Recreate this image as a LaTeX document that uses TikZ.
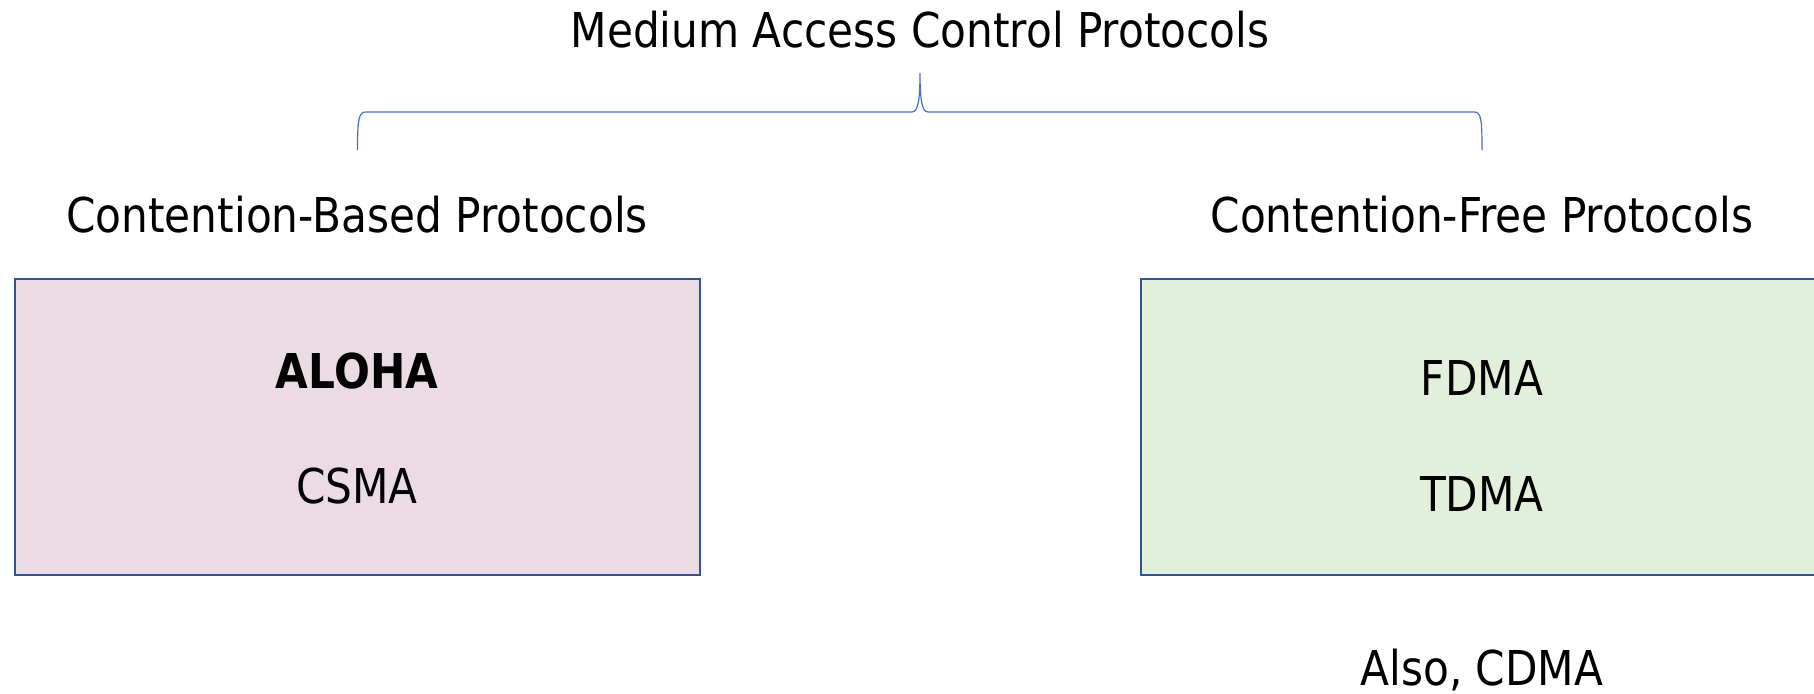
\documentclass[tikz,border=0pt]{standalone}
\usepackage{fontspec}
\setmainfont{DejaVu Sans}[FakeStretch=0.88]
\definecolor{boxborder}{RGB}{47,85,151}
\definecolor{pinkfill}{RGB}{234,219,228}
\definecolor{greenfill}{RGB}{226,239,218}
\definecolor{bracecol}{RGB}{68,114,196}
\tikzset{
  lbl/.style={inner sep=0pt, font=\fontsize{36}{43}\selectfont, anchor=base},
  catbox/.style={draw=boxborder, line width=2pt},
  brace/.style={draw=bracecol, line width=0.9pt}
}
\begin{document}
\begin{tikzpicture}[x=0.75pt,y=-0.75pt]
\useasboundingbox (0,0) rectangle (1814,693);
% boxes
\path[catbox, fill=pinkfill] (15,279) rectangle (700,575);
\path[catbox, fill=greenfill] (1141,279) rectangle (1830,575);
% brace
\coordinate (bl) at (357.5,150);
\coordinate (bt) at (920,73);
\coordinate (br) at (1482,150);
\draw[brace] (bl) .. controls (357.5,118) and (359,112) .. (366,112)
  -- (912,112) .. controls (918,112) and (920,100) .. (bt)
  .. controls (920,100) and (922,112) .. (928,112)
  -- (1474,112) .. controls (1481,112) and (1482,118) .. (br);
% texts
\node[lbl] (title) at (920,47) {Medium Access Control Protocols};
\node[lbl] (cb) at (357,232) {Contention-Based Protocols};
\node[lbl] (cf) at (1482,232) {Contention-Free Protocols};
\node[lbl, font=\fontsize{36}{43}\selectfont\bfseries] (aloha) at (357,388) {ALOHA};
\node[lbl] (csma) at (357,503) {CSMA};
\node[lbl] (fdma) at (1482,395) {FDMA};
\node[lbl] (tdma) at (1482,511) {TDMA};
\node[lbl] (cdma) at (1482,685) {Also, CDMA};
\end{tikzpicture}
\end{document}
